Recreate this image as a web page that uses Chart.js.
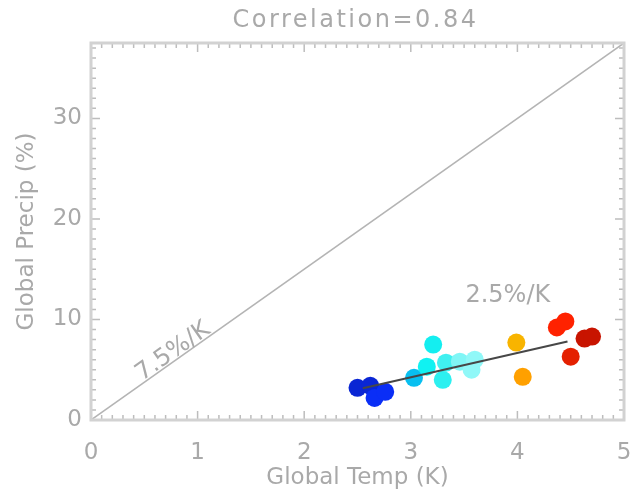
<!DOCTYPE html>
<html>
<head>
<meta charset="utf-8">
<script src="https://cdn.jsdelivr.net/npm/chart.js@4.4.0/dist/chart.umd.min.js"></script>
<style>
  html, body { margin: 0; padding: 0; background: #fff; }
  #wrap { width: 633px; height: 495px; }
</style>
</head>
<body>
<div id="wrap"><canvas id="chartContainer"></canvas></div>
<script>
// model values
const tempK =  [2.50, 2.62, 2.66, 2.76, 3.03, 3.21, 3.15, 3.30, 3.33, 3.46, 3.60, 3.57, 3.99, 4.05, 4.37, 4.45, 4.63, 4.70, 4.50];
const precip = [3.2, 3.4, 2.2, 2.8, 4.2, 7.5, 5.3, 4.0, 5.7, 5.8, 6.0, 5.0, 7.7, 4.3, 9.2, 9.8, 8.1, 8.3, 6.3];
const dotColors = ['#0a26d4', '#0a26d4', '#0a2ef6', '#0a2ef6', '#08bff0', '#14eef0', '#10f2f2', '#2cf0f0',
                   '#40f0f0', '#80f6f6', '#90f8f8', '#90f8f8', '#f8b400', '#ffa000', '#ff2200', '#ff2200',
                   '#c81400', '#c81400', '#e42000'];

// reference lines
const ccLineX = [0, 5];
const ccLineY = [0, 37.5];
const fitX = [2.55, 4.47];
const fitY = [3.15, 7.8];

const xTicks = [0, 1, 2, 3, 4, 5];
const yTicks = [0, 10, 20, 30];
const titleText = 'Correlation=0.84';

const grey = '#a9a9a9';
const fontFam = '"DejaVu Sans", sans-serif';

function pts(xs, ys) {
    return xs.map((v, i) => ({ x: v, y: ys[i] }));
}

// frame, inward ticks, title and line labels
const idlFrame = {
    id: 'idlFrame',
    afterDraw(chart) {
        const ctx = chart.ctx;
        const a = chart.chartArea;
        const xs = chart.scales.x, ys = chart.scales.y;
        ctx.save();
        ctx.strokeStyle = '#bdbdbd';
        ctx.lineWidth = 1.5;
        ctx.beginPath();
        for (let i = 0; i <= 50; i++) {
            const px = xs.getPixelForValue(i / 10);
            const len = i % 10 === 0 ? 9 : 5;
            ctx.moveTo(px, a.bottom); ctx.lineTo(px, a.bottom - len);
            ctx.moveTo(px, a.top); ctx.lineTo(px, a.top + len);
        }
        for (let i = 0; i <= 37; i++) {
            const py = ys.getPixelForValue(i);
            const len = i % 10 === 0 ? 9 : 5;
            ctx.moveTo(a.left, py); ctx.lineTo(a.left + len, py);
            ctx.moveTo(a.right, py); ctx.lineTo(a.right - len, py);
        }
        ctx.stroke();
        ctx.strokeStyle = '#d2d2d2';
        ctx.lineWidth = 3;
        ctx.strokeRect(a.left, a.top, a.right - a.left, a.bottom - a.top);

        ctx.fillStyle = grey;
        ctx.textAlign = 'center';
        ctx.textBaseline = 'middle';
        ctx.font = '24px ' + fontFam;
        ctx.letterSpacing = '2.5px';
        ctx.fillText(titleText, (a.left + a.right) / 2 - 2, 21);
        ctx.letterSpacing = '0px';

        ctx.fillText('2.5%/K', xs.getPixelForValue(3.91), ys.getPixelForValue(12.4));
        const ang = Math.atan2(ys.getPixelForValue(37.5) - ys.getPixelForValue(0),
                               xs.getPixelForValue(5) - xs.getPixelForValue(0));
        ctx.translate(xs.getPixelForValue(0.77), ys.getPixelForValue(6.8));
        ctx.rotate(ang);
        ctx.fillText('7.5%/K', 0, 0);
        ctx.restore();
    }
};

const config = {
    type: 'scatter',
    data: {
        datasets: [{
            data: pts(fitX, fitY),
            showLine: true,
            borderColor: '#474747',
            borderWidth: 2,
            pointRadius: 0
        }, {
            data: pts(tempK, precip),
            backgroundColor: dotColors,
            borderWidth: 0,
            pointRadius: 9
        }, {
            data: pts(ccLineX, ccLineY),
            showLine: true,
            borderColor: '#b4b4b4',
            borderWidth: 1.5,
            pointRadius: 0
        }]
    },
    options: {
        responsive: true,
        maintainAspectRatio: false,
        animation: false,
        events: [],
        layout: { padding: { top: 43, right: 9, left: 0, bottom: 0 } },
        plugins: { legend: { display: false }, tooltip: { enabled: false } },
        scales: {
            x: {
                type: 'linear',
                min: 0, max: 5,
                afterBuildTicks: s => { s.ticks = xTicks.map(v => ({ value: v })); },
                afterFit: s => { s.height = 75; s.paddingLeft = 0; s.paddingRight = 0; },
                grid: { display: false, drawTicks: false },
                border: { display: false },
                ticks: { color: grey, font: { family: fontFam, size: 23 }, padding: 19, maxRotation: 0 },
                title: {
                    display: true, text: 'Global Temp (K)', color: grey,
                    font: { family: fontFam, size: 23 }, padding: { top: 0, bottom: 3 }
                }
            },
            y: {
                type: 'linear',
                min: 0, max: 37.5,
                afterBuildTicks: s => { s.ticks = yTicks.map(v => ({ value: v })); },
                afterFit: s => { s.width = 91; s.paddingTop = 0; s.paddingBottom = 0; },
                grid: { display: false, drawTicks: false },
                border: { display: false },
                ticks: { color: grey, font: { family: fontFam, size: 23 }, padding: 9 },
                title: {
                    display: true, text: 'Global Precip (%)', color: grey,
                    font: { family: fontFam, size: 23 }, padding: { top: 13, bottom: 0 }
                }
            }
        }
    },
    plugins: [idlFrame]
};

new Chart(document.getElementById('chartContainer'), config);
</script>
</body>
</html>
